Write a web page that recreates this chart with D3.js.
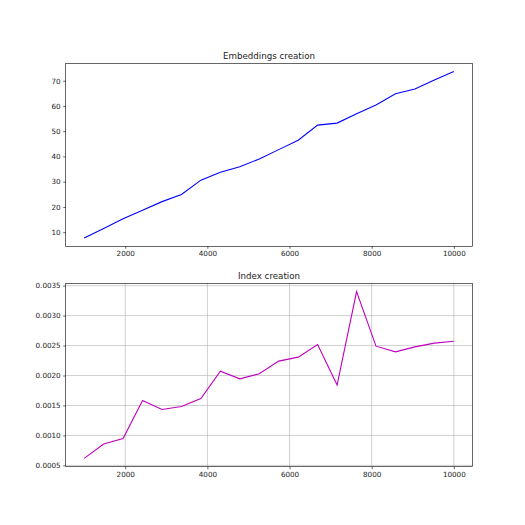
<!DOCTYPE html>
<html><head><meta charset="utf-8">
<script src="https://cdn.jsdelivr.net/npm/d3@7"></script>
<style>body{margin:0;background:#fff}svg{display:block}text{font-family:"DejaVu Sans";fill:#222}</style>
</head><body><svg id="c" width="525" height="525"></svg>
<script>
const sizes = [1000,1474,1947,2421,2895,3368,3842,4316,4789,5263,5737,6211,6684,7158,7632,8105,8579,9053,9526,10000];
const embeddingTimes = [7.7,11.5,15.3,18.7,22.1,24.9,30.6,33.7,35.9,39.0,42.7,46.4,52.4,53.2,56.9,60.4,64.8,66.7,70.3,73.6];
const indexTimes = [0.000617,0.000857,0.00095,0.001583,0.001433,0.001483,0.001617,0.002073,0.001945,0.002028,0.00224,0.002307,0.002517,0.00184,0.0034,0.00249,0.002395,0.002478,0.00254,0.002573];
const xTicks = [2000,4000,6000,8000,10000];
const embTicks = [10,20,30,40,50,60,70];
const idxTicks = [0.0005,0.0010,0.0015,0.0020,0.0025,0.0030,0.0035];

const svg = d3.select("#c");
const L = 65.7, R = 472.3;
function panel(top, bottom, title, ys, yTicks, fmt, color, grid){
  const x = d3.scaleLinear().domain([1000 - 450, 10000 + 450]).range([L, R]);
  const lo = d3.min(ys), hi = d3.max(ys), m = (hi - lo) * 0.05;
  const y = d3.scaleLinear().domain([lo - m, hi + m]).range([bottom, top]);
  const g = svg.append("g");
  if (grid) {
    g.append("g").selectAll("line").data(xTicks).join("line")
      .attr("x1", d => x(d)).attr("x2", d => x(d)).attr("y1", top).attr("y2", bottom)
      .attr("stroke", "#b0b0b0").attr("stroke-width", 0.6);
    g.append("g").selectAll("line").data(yTicks).join("line")
      .attr("x1", L).attr("x2", R).attr("y1", d => y(d)).attr("y2", d => y(d))
      .attr("stroke", "#b0b0b0").attr("stroke-width", 0.6);
  }
  g.append("path").datum(ys)
    .attr("d", d3.line().x((d,i) => x(sizes[i])).y(d => y(d)))
    .attr("fill", "none").attr("stroke", color).attr("stroke-width", 1.1);
  const xa = g.append("g").attr("transform", `translate(0,${bottom})`)
    .call(d3.axisBottom(x).tickValues(xTicks).tickFormat(d3.format("d")).tickSize(2.5).tickPadding(2.5));
  const ya = g.append("g").attr("transform", `translate(${L},0)`)
    .call(d3.axisLeft(y).tickValues(yTicks).tickFormat(fmt).tickSize(2.5).tickPadding(2.5));
  [xa, ya].forEach(a => {
    a.select(".domain").remove();
    a.selectAll("line").attr("stroke", "#000").attr("stroke-width", 0.6);
    a.selectAll("text").attr("font-size", 7.2).attr("font-family", "DejaVu Sans").attr("fill", "#222");
  });
  g.append("rect").attr("x", L).attr("y", top).attr("width", R - L).attr("height", bottom - top)
    .attr("fill", "none").attr("stroke", "#000").attr("stroke-width", 0.6);
  g.append("text").attr("x", (L + R) / 2).attr("y", top - 4.5).attr("text-anchor", "middle")
    .attr("font-size", 8.7).text(title);
}
panel(63.3, 246.3, "Embeddings creation", embeddingTimes, embTicks, d3.format("d"), "#0000ff", false);
panel(283.3, 466.7, "Index creation", indexTimes, idxTicks, d3.format(".4f"), "#bf00bf", true);
</script></body></html>
